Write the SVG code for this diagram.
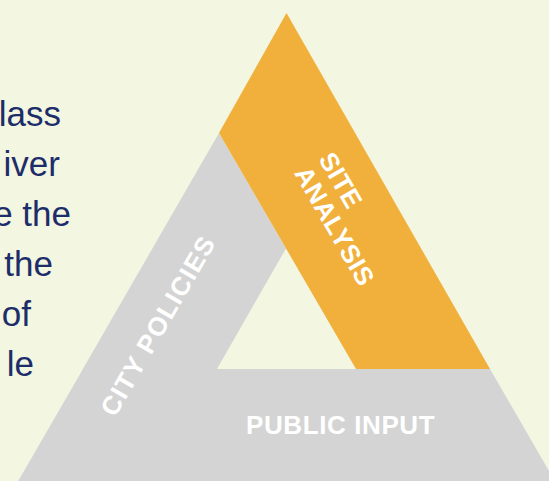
<svg xmlns="http://www.w3.org/2000/svg" width="549" height="481" viewBox="0 0 549 481">
<style>
.bg{fill:#f3f6e1}
.gray{fill:#d4d4d4}
.orange{fill:#f1b03b}
.para{font-family:"Liberation Sans",Arial,sans-serif;font-size:35px;fill:#1c2d6a;text-anchor:end}
.lbl{font-family:"Liberation Sans",Arial,sans-serif;font-size:26px;font-weight:bold;fill:#ffffff}
</style>
<rect class="bg" x="0" y="0" width="549" height="481"/>
<g id="paragraph">
<text class="para" x="61" y="126">lass</text>
<text class="para" x="60" y="176">iver</text>
<text class="para" x="71" y="226">e the</text>
<text class="para" x="53" y="276">the</text>
<text class="para" x="31" y="326">of</text>
<text class="para" x="34" y="376">le</text>
</g>
<g id="connectors"></g>
<g id="public-input">
<polygon class="gray" points="83,369 490,369 560,490 13,490"/>
<text class="lbl" x="246" y="434" letter-spacing="0.6">PUBLIC INPUT</text>
</g>
<g id="city-policies">
<polygon class="gray" points="219,133 286,248.4 216.4,370 82.3,370"/>
<text class="lbl" x="115" y="418" transform="rotate(-60 115 418)" letter-spacing="1.2">CITY POLICIES</text>
</g>
<g id="site-analysis">
<polygon class="orange" points="286.5,13 490,369 356,369 219,133"/>
<g transform="translate(318,159) rotate(60)">
<text class="lbl" x="0" y="0" letter-spacing="0.5">SITE</text>
<text class="lbl" x="0" y="28" letter-spacing="0.5">ANALYSIS</text>
</g>
</g>
</svg>
